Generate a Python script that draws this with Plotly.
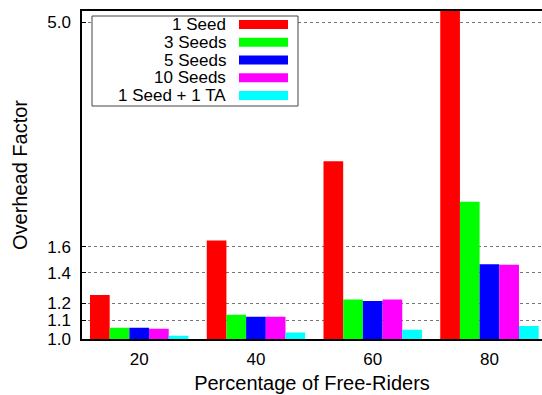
import plotly.graph_objects as go

# Overhead factor per free-rider percentage, one series per seeding setup
free_riders = ["20", "40", "60", "80"]
series_names = ["1 Seed", "3 Seeds", "5 Seeds", "10 Seeds", "1 Seed + 1 TA"]
one_seed = [1.25, 1.65, 2.47, 5.6]
three_seeds = [1.059, 1.131, 1.223, 2.01]
five_seeds = [1.059, 1.12, 1.213, 1.463]
ten_seeds = [1.054, 1.12, 1.223, 1.458]
seed_plus_ta = [1.017, 1.033, 1.048, 1.068]
tick_values = [1.0, 1.1, 1.2, 1.4, 1.6, 5.0]
tick_labels = ["1.0", "1.1", "1.2", "1.4", "1.6", "5.0"]

series_values = [one_seed, three_seeds, five_seeds, ten_seeds, seed_plus_ta]
colors = ["#ff0000", "#00ff00", "#0000ff", "#ff00ff", "#00ffff"]

W, H = 542, 395
ML, MR, MT, MB = 82, 0, 11, 56
PW, PH = W - ML - MR, H - MT - MB
FONT = "Liberation Sans, Arial, sans-serif"


def px_x(x):
    return (x - ML) / PW


def px_y(y):
    return (H - MB - y) / PH


fig = go.Figure()
xs = list(range(len(free_riders)))
for name, vals, col in zip(series_names, series_values, colors):
    fig.add_trace(go.Bar(
        x=xs, y=vals, name=name, marker_color=col,
        marker_line_width=0, showlegend=False,
    ))

# Legend drawn as a boxed key with labels to the left of the swatches
shapes = [dict(
    type="rect", xref="paper", yref="paper",
    x0=px_x(92), x1=px_x(298), y0=px_y(106), y1=px_y(16),
    line=dict(color="#444", width=1), fillcolor="white", layer="above",
)]
annotations = []
row_y = [24.5, 42.3, 60, 77.7, 95.4]
for name, col, ry in zip(series_names, colors, row_y):
    annotations.append(dict(
        xref="paper", yref="paper", x=px_x(228), y=px_y(ry),
        xanchor="right", yanchor="middle", text=name, showarrow=False,
        font=dict(family=FONT, size=17, color="black"),
    ))
    shapes.append(dict(
        type="rect", xref="paper", yref="paper",
        x0=px_x(239), x1=px_x(288), y0=px_y(ry + 4.5), y1=px_y(ry - 4.5),
        line=dict(width=0), fillcolor=col, layer="above",
    ))

fig.update_layout(
    width=W, height=H,
    margin=dict(l=ML, r=MR, t=MT, b=MB),
    paper_bgcolor="white", plot_bgcolor="white",
    barmode="group", bargap=0.157, bargroupgap=0,
    font=dict(family=FONT, size=17, color="black"),
    shapes=shapes, annotations=annotations,
    xaxis=dict(
        tickmode="array", tickvals=xs, ticktext=free_riders,
        range=[-0.49, 3.45], showgrid=False, zeroline=False,
        showline=True, linecolor="black", linewidth=1.5, mirror=True,
        ticks="", ticklabelstandoff=4,
        title=dict(text="Percentage of Free-Riders", standoff=8),
    ),
    yaxis=dict(
        type="log", range=[0, 0.7243],
        tickmode="array", tickvals=tick_values, ticktext=tick_labels,
        showgrid=True, gridcolor="#777", griddash="dot", gridwidth=1,
        zeroline=False, showline=True, linecolor="black", linewidth=1.5,
        ticks="inside", ticklen=4, tickcolor="black", ticklabelstandoff=6,
        title=dict(text="Overhead Factor", standoff=14),
    ),
)

fig.write_html("out.html")
